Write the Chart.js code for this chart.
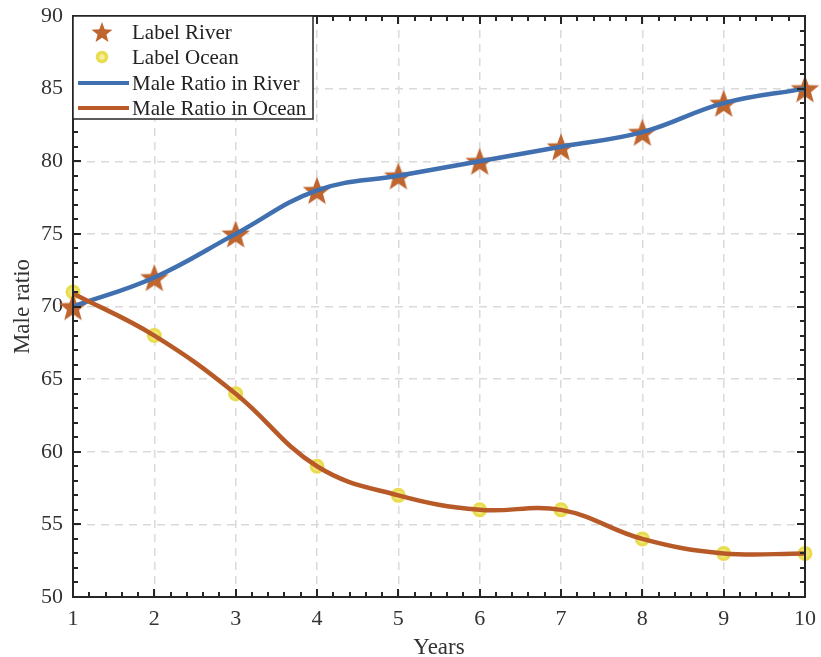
<!DOCTYPE html>
<html>
<head>
<meta charset="utf-8">
<script src="https://cdn.jsdelivr.net/npm/chart.js@4.4.0/dist/chart.umd.min.js"></script>
<style>
  html, body { margin: 0; padding: 0; background: #fff; }
  #wrap { width: 821px; height: 657px; }
</style>
</head>
<body>
<div id="wrap"><canvas id="myChart" width="821" height="657"></canvas></div>
<script>
// data
var years = [1, 2, 3, 4, 5, 6, 7, 8, 9, 10];
var riverLabel = [70, 72, 75, 78, 79, 80, 81, 82, 84, 85];
var oceanLabel = [71, 68, 64, 59, 57, 56, 56, 54, 53, 53];
var riverRatio = [70, 72, 75, 78, 79, 80, 81, 82, 84, 85];
var oceanRatio = [70.9, 68, 64, 59, 57, 56, 56, 54, 53, 53];
var xTicks = [1, 2, 3, 4, 5, 6, 7, 8, 9, 10];
var yTicks = [50, 55, 60, 65, 70, 75, 80, 85, 90];

var blue = '#4170b0';
var orange = '#b85a28';
var starColor = '#bf652f';
var fontFam = '"Liberation Serif", "Times New Roman", serif';

function makeStar(r, color) {
    var c = document.createElement('canvas');
    c.width = r * 2 + 2; c.height = r * 2 + 2;
    var g = c.getContext('2d');
    g.beginPath();
    for (var i = 0; i < 10; i++) {
        var rad = (i % 2 == 0) ? r : r * 0.42;
        var a = -Math.PI / 2 + i * Math.PI / 5;
        var px = r + 1 + rad * Math.cos(a);
        var py = r + 1 + rad * Math.sin(a) + r * 0.1;
        if (i == 0) g.moveTo(px, py); else g.lineTo(px, py);
    }
    g.closePath();
    g.fillStyle = color;
    g.fill();
    return c;
}
var starImg = makeStar(15, starColor);
var starSmall = makeStar(11, starColor);

function pts(ys) {
    return years.map(function (x, i) { return { x: x, y: ys[i] }; });
}

// draws the box, inward ticks and the legend
var framePlugin = {
    id: 'frame',
    afterDraw: function (chart) {
        var ctx = chart.ctx;
        var a = chart.chartArea;
        var xs = chart.scales.x, ys = chart.scales.y;
        ctx.save();
        ctx.strokeStyle = '#262626';
        ctx.lineWidth = 2;
        ctx.beginPath();
        // x ticks, major and minor, bottom and top
        for (var v = 1; v <= 10.001; v += 0.2) {
            var px = Math.round(xs.getPixelForValue(v));
            var major = Math.abs(v - Math.round(v)) < 0.01;
            var len = major ? 8 : 5;
            ctx.moveTo(px, a.bottom); ctx.lineTo(px, a.bottom - len);
            ctx.moveTo(px, a.top); ctx.lineTo(px, a.top + len);
        }
        for (var w = 50; w <= 90; w += 1) {
            var py = Math.round(ys.getPixelForValue(w));
            var len2 = (w % 5 == 0) ? 8 : 5;
            ctx.moveTo(a.left, py); ctx.lineTo(a.left + len2, py);
            ctx.moveTo(a.right, py); ctx.lineTo(a.right - len2, py);
        }
        ctx.stroke();
        ctx.strokeRect(a.left, a.top, a.right - a.left, a.bottom - a.top);

        // legend
        var lx = a.left, ly = a.top, lw = 240, lh = 103;
        ctx.fillStyle = '#fff';
        ctx.fillRect(lx, ly, lw, lh);
        ctx.lineWidth = 1.5;
        ctx.strokeStyle = '#262626';
        ctx.strokeRect(lx, ly, lw, lh);
        ctx.font = '21px ' + fontFam;
        ctx.textBaseline = 'middle';
        var ds = chart.data.datasets;
        var rows = [ly + 16, ly + 41, ly + 67, ly + 92];
        for (var i = 0; i < ds.length; i++) {
            var yy = rows[i];
            if (i == 0) {
                ctx.drawImage(starSmall, lx + 29 - starSmall.width / 2, yy - starSmall.height / 2);
            } else if (i == 1) {
                ctx.beginPath();
                ctx.arc(lx + 29, yy, 4.5, 0, Math.PI * 2);
                ctx.fillStyle = '#f4ee9c';
                ctx.fill();
                ctx.lineWidth = 3.5;
                ctx.strokeStyle = '#e9dc4e';
                ctx.stroke();
            } else {
                ctx.beginPath();
                ctx.moveTo(lx + 5, yy); ctx.lineTo(lx + 56, yy);
                ctx.lineWidth = 4;
                ctx.strokeStyle = ds[i].borderColor;
                ctx.stroke();
            }
            ctx.fillStyle = '#222';
            ctx.fillText(ds[i].label, lx + 59, yy + 1);
        }
        ctx.restore();
    }
};

var ctx = document.getElementById('myChart').getContext('2d');
new Chart(ctx, {
    type: 'line',
    data: {
        datasets: [
            {
                label: 'Label River',
                data: pts(riverLabel),
                showLine: false,
                pointStyle: starImg,
                pointRadius: 15,
                clip: false,
                order: 2
            },
            {
                label: 'Label Ocean',
                data: pts(oceanLabel),
                showLine: false,
                pointStyle: 'circle',
                pointRadius: 6,
                pointBackgroundColor: '#f1e67a',
                pointBorderColor: '#e9dc4e',
                pointBorderWidth: 3,
                clip: false,
                order: 3
            },
            {
                label: 'Male Ratio in River',
                data: pts(riverRatio),
                borderColor: blue,
                borderWidth: 4.5,
                pointRadius: 0,
                tension: 0.4,
                fill: false,
                clip: false,
                order: 1
            },
            {
                label: 'Male Ratio in Ocean',
                data: pts(oceanRatio),
                borderColor: orange,
                borderWidth: 4.5,
                pointRadius: 0,
                tension: 0.4,
                fill: false,
                clip: false,
                order: 0
            }
        ]
    },
    options: {
        responsive: false,
        animation: false,
        layout: { padding: { left: 0, top: 15, right: 13, bottom: 0 } },
        plugins: {
            legend: { display: false },
            tooltip: { enabled: false }
        },
        scales: {
            x: {
                type: 'linear',
                min: 1,
                max: 10,
                afterBuildTicks: function (s) { s.ticks = xTicks.map(function (v) { return { value: v }; }); },
                afterFit: function (s) { s.height = 60; s.paddingLeft = 0; s.paddingRight = 0; },
                grid: { color: '#dadada', lineWidth: 1.5, drawTicks: false },
                border: { display: false, dash: [8, 6] },
                ticks: {
                    color: '#333',
                    font: { family: fontFam, size: 22 },
                    padding: 9,
                    maxRotation: 0
                },
                title: {
                    display: true,
                    text: 'Years',
                    color: '#333',
                    font: { family: fontFam, size: 23 },
                    padding: { top: 0, bottom: -5 }
                }
            },
            y: {
                min: 50,
                max: 90,
                afterBuildTicks: function (s) { s.ticks = yTicks.map(function (v) { return { value: v }; }); },
                afterFit: function (s) { s.width = 73; s.paddingTop = 0; s.paddingBottom = 0; },
                grid: { color: '#dadada', lineWidth: 1.5, drawTicks: false },
                border: { display: false, dash: [8, 6] },
                ticks: {
                    color: '#333',
                    font: { family: fontFam, size: 22 },
                    padding: 10
                },
                title: {
                    display: true,
                    text: 'Male ratio',
                    color: '#333',
                    font: { family: fontFam, size: 23 },
                    padding: { top: 9, bottom: 0 }
                }
            }
        }
    },
    plugins: [framePlugin]
});
</script>
</body>
</html>
